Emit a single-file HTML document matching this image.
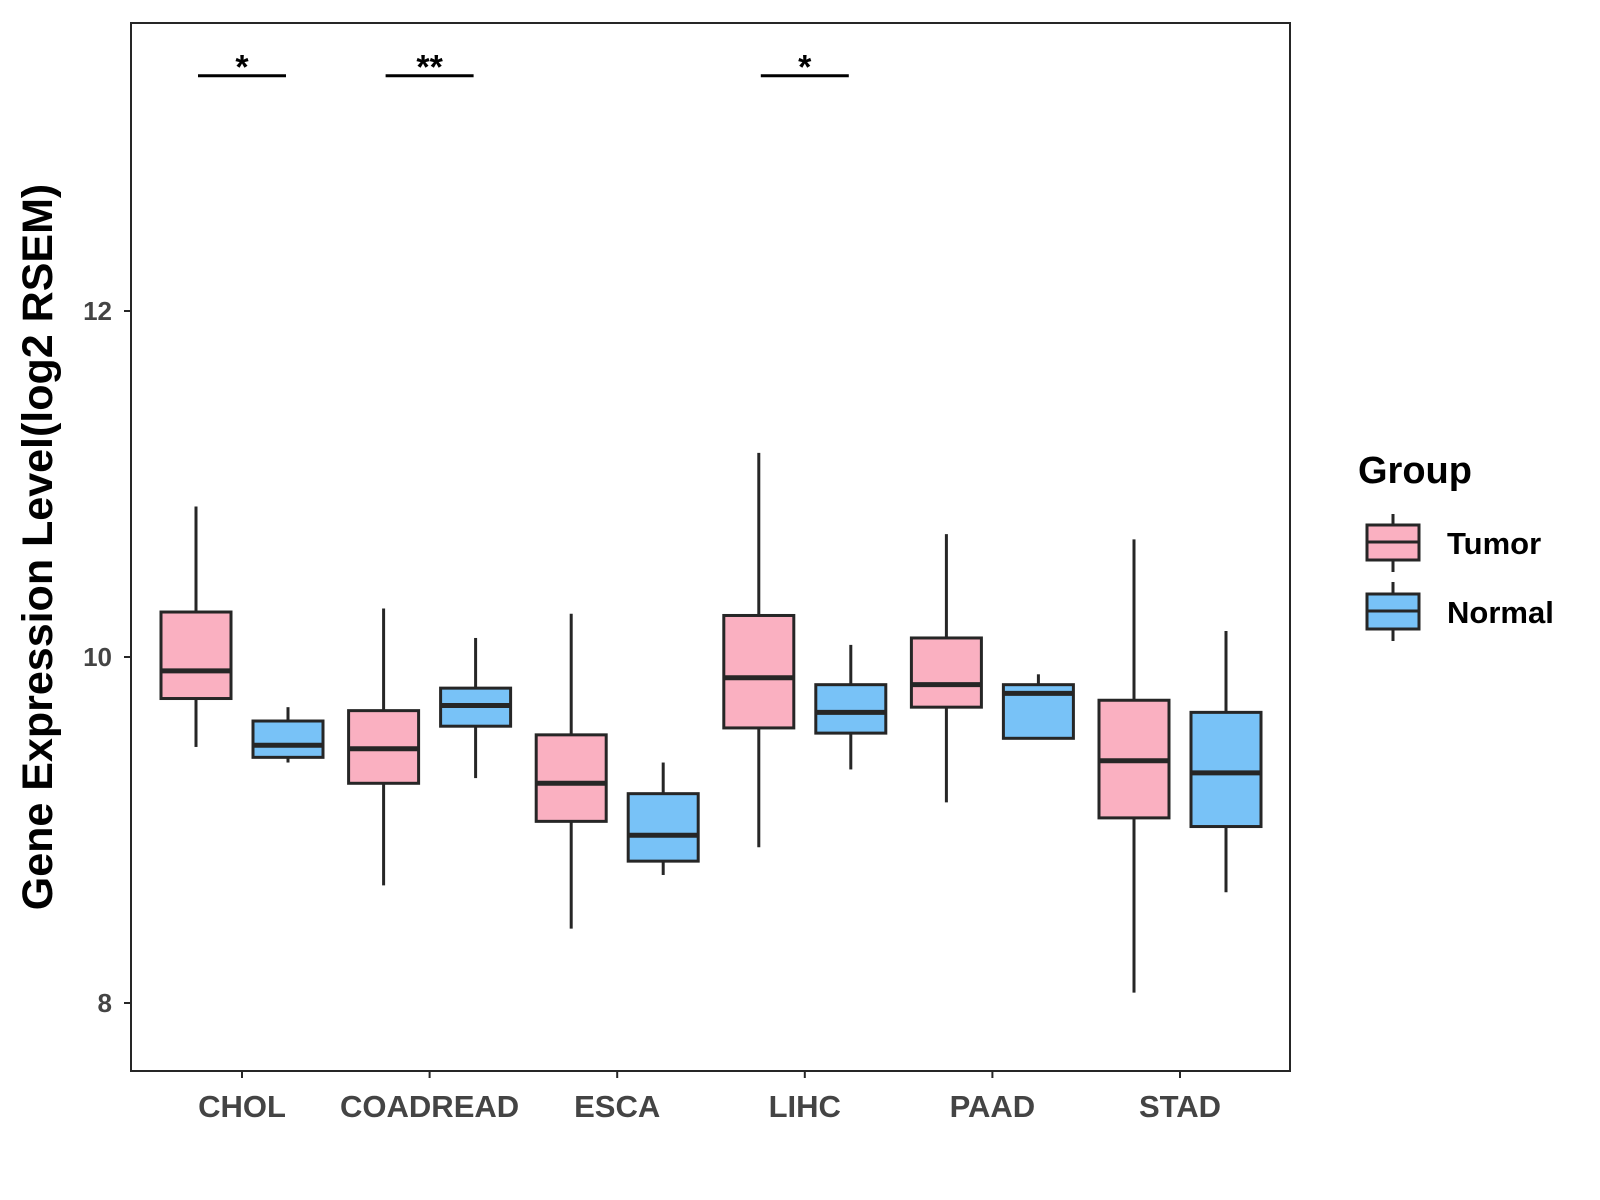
<!DOCTYPE html>
<html><head><meta charset="utf-8"><style>
body{margin:0;background:#fff;}
svg{display:block;font-family:"Liberation Sans",Arial,sans-serif;}
</style></head><body>
<svg id="chart" width="1600" height="1200" viewBox="0 0 1600 1200">
<rect x="131" y="23" width="1159" height="1048" fill="none" stroke="#262626" stroke-width="2"/>
<g id="marks"></g>
<text transform="translate(52,547) rotate(-90)" text-anchor="middle" font-size="43" font-weight="bold" fill="#000">Gene Expression Level(log2 RSEM)</text>
<g>
<text x="1358" y="483" font-size="38" font-weight="bold" fill="#000">Group</text>
<g>
<line x1="1393" y1="514" x2="1393" y2="572" stroke="#262626" stroke-width="3"/>
<rect x="1367" y="525" width="52" height="35" fill="#FAB0C1" stroke="#262626" stroke-width="3"/>
<line x1="1367" y1="542" x2="1419" y2="542" stroke="#262626" stroke-width="3"/>
<text x="1447" y="554" font-size="31" font-weight="bold" fill="#000">Tumor</text>
</g>
<g>
<line x1="1393" y1="582" x2="1393" y2="641" stroke="#262626" stroke-width="3"/>
<rect x="1367" y="594" width="52" height="35" fill="#78C2F7" stroke="#262626" stroke-width="3"/>
<line x1="1367" y1="611" x2="1419" y2="611" stroke="#262626" stroke-width="3"/>
<text x="1447" y="623" font-size="31" font-weight="bold" fill="#000">Normal</text>
</g>
</g>
</svg>
<script>
const categories=["CHOL","COADREAD","ESCA","LIHC","PAAD","STAD"];
const tumorLow=[9.48,8.68,8.43,8.90,9.16,8.06];
const tumorQ1=[9.76,9.27,9.05,9.59,9.71,9.07];
const tumorMed=[9.92,9.47,9.27,9.88,9.84,9.40];
const tumorQ3=[10.26,9.69,9.55,10.24,10.11,9.75];
const tumorHigh=[10.87,10.28,10.25,11.18,10.71,10.68];
const normalLow=[9.39,9.30,8.74,9.35,9.53,8.64];
const normalQ1=[9.42,9.60,8.82,9.56,9.53,9.02];
const normalMed=[9.49,9.72,8.97,9.68,9.79,9.33];
const normalQ3=[9.63,9.82,9.21,9.84,9.84,9.68];
const normalHigh=[9.71,10.11,9.39,10.07,9.90,10.15];
const significance=["*","**","","*","",""];
const yTicks=[8,10,12];
const sigLevel=13.36;

const NS="http://www.w3.org/2000/svg";
const g=document.getElementById("marks");
function y(v){return 657-(v-10)*173;}
function x(i){return 242+i*187.6;}
function mk(t,a,p){const e=document.createElementNS(NS,t);for(const k in a)e.setAttribute(k,a[k]);(p||g).appendChild(e);return e;}
const S="#262626";
yTicks.forEach(t=>{
  const tk=mk("line",{x1:124,x2:131,y1:y(t),y2:y(t),stroke:S,"stroke-width":2});
  
  
  const tl=mk("text",{x:112,y:y(t)+9,"text-anchor":"end","font-size":26,"font-weight":"bold",fill:"#444"});
  tl.textContent=t;
  
  
});
function box(cx,lo,q1,md,q3,hi,fill,name){
  const bg=mk("g",{});
  
  
  mk("line",{x1:cx,x2:cx,y1:y(hi),y2:y(q3),stroke:S,"stroke-width":3},bg);
  mk("line",{x1:cx,x2:cx,y1:y(q1),y2:y(lo),stroke:S,"stroke-width":3},bg);
  mk("rect",{x:cx-35,y:y(q3),width:70,height:y(q1)-y(q3),fill:fill,stroke:S,"stroke-width":3},bg);
  mk("line",{x1:cx-35,x2:cx+35,y1:y(md),y2:y(md),stroke:S,"stroke-width":5},bg);
}
categories.forEach((c,i)=>{
  const cx=x(i);
  const tk=mk("line",{x1:cx,x2:cx,y1:1071,y2:1078,stroke:S,"stroke-width":2});
  
  
  const tl=mk("text",{x:cx,y:1117,"text-anchor":"middle","font-size":31,"font-weight":"bold",fill:"#444"});
  tl.textContent=c;
  
  
  box(cx-46,tumorLow[i],tumorQ1[i],tumorMed[i],tumorQ3[i],tumorHigh[i],"#FAB0C1","box-tumor-"+c.toLowerCase());
  box(cx+46,normalLow[i],normalQ1[i],normalMed[i],normalQ3[i],normalHigh[i],"#78C2F7","box-normal-"+c.toLowerCase());
  if(significance[i]){
    const sl=mk("line",{x1:cx-44,x2:cx+44,y1:y(sigLevel),y2:y(sigLevel),stroke:"#000","stroke-width":3});
    
    
    const st=mk("text",{x:cx,y:y(sigLevel)+3,"text-anchor":"middle","font-size":34,"font-weight":"bold",fill:"#000"});
    st.textContent=significance[i];
    
    
  }
});
</script>
</body></html>
